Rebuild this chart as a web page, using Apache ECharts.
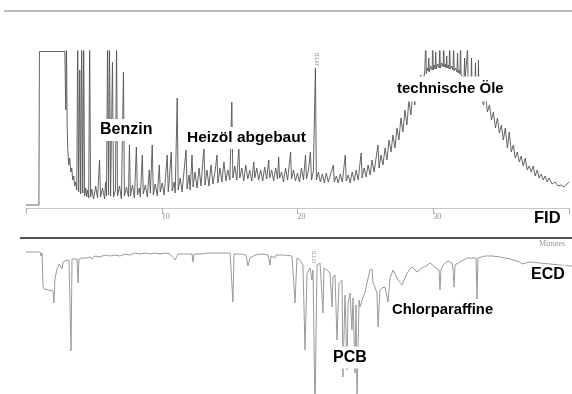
<!DOCTYPE html>
<html>
	<head>
		<meta charset="UTF-8">
		<title>FID / ECD</title>
		<style>
			html, body { margin: 0; padding: 0; background: #fff; }
			#main { width: 572px; height: 394px; }
		</style>
	</head>
	<body>
		<div id="main"></div>
	</body>
	<script type="text/javascript" src="https://cdn.jsdelivr.net/npm/echarts@6/dist/echarts.min.js"></script>
	<script type="text/javascript">
		// FID trace, [minutes, signal]
		var fidSolvent = [[0,3],[0.95,3],[0.99,156.5],[2.86,156.5],[2.93,98],[2.98,170],[3.03,83],[3.08,58],[3.15,43],[3.22,50],[3.30,36],[3.37,40],[3.44,28],[3.52,32],[3.59,22],[3.66,26],[3.74,18]];
		var fidBenzin = [[3.81,170],[3.88,16],[3.96,138],[4.03,14],[4.10,170],[4.18,15],[4.25,170],[4.32,12],[4.40,20],[4.47,11],[4.54,18],[4.62,10],[4.69,170],[4.76,11],[4.84,19],[4.98,9],[5.13,22],[5.27,10],[5.42,48],[5.49,11],[5.64,20],[5.79,9],[5.86,26],[5.93,12],[6.01,170],[6.08,13],[6.15,170],[6.23,12],[6.37,146],[6.45,11],[6.59,18],[6.67,170],[6.74,12],[6.89,22],[7.03,9],[7.18,136],[7.25,12],[7.40,21],[7.55,11],[7.62,63],[7.69,12],[7.84,23],[7.99,10],[8.13,61],[8.21,13],[8.35,20],[8.42,11],[8.57,53],[8.64,14],[8.79,23],[8.94,11],[9.08,38],[9.16,15],[9.30,63],[9.38,13],[9.52,24],[9.67,12],[9.82,43],[9.89,16],[10.04,25],[10.18,13],[10.40,53],[10.48,16],[10.55,28],[10.70,56],[10.77,17],[10.92,26]];
		var fidHeizoel = [[10.99,15],[11.14,110],[11.21,18],[11.36,30],[11.50,16],[11.65,38],[11.79,58],[11.87,19],[12.01,33],[12.09,18],[12.23,53],[12.31,21],[12.45,36],[12.60,20],[12.75,40],[12.89,22],[13.11,61],[13.19,23],[13.33,38],[13.48,22],[13.63,43],[13.77,24],[13.92,36],[14.07,53],[14.14,25],[14.29,40],[14.43,26],[14.58,46],[14.73,27],[14.87,38],[15.02,28],[15.16,106],[15.24,30],[15.38,42],[15.53,28],[15.68,61],[15.75,30],[15.90,40],[16.04,27],[16.19,43],[16.34,29],[16.48,38],[16.63,27],[16.78,46],[16.85,30],[17.00,40],[17.14,28],[17.29,38],[17.44,27],[17.58,41],[17.73,29],[17.88,48],[17.95,30],[18.10,38],[18.24,27],[18.39,40],[18.53,29],[18.61,51],[18.68,30],[18.83,36],[18.97,26],[19.12,40],[19.27,28],[19.49,56],[19.56,29],[19.71,38],[19.85,27],[20.00,35],[20.15,26],[20.29,40],[20.44,28],[20.59,53],[20.66,29],[20.81,38],[20.95,56],[21.03,28],[21.17,37],[21.32,140],[21.39,28],[21.54,36],[21.68,26],[21.83,34],[21.98,25],[22.12,35],[22.27,26],[22.42,33],[22.64,43],[22.71,26],[22.86,32],[23.00,25],[23.15,34],[23.30,26],[23.52,53],[23.59,27],[23.74,33],[23.88,25],[24.03,36],[24.18,27],[24.32,38],[24.47,28],[24.69,55],[24.76,30],[24.91,40]];
		var fidOele = [[25.05,31],[25.20,43],[25.35,33],[25.49,48],[25.64,36],[25.79,50],[25.93,63],[26.01,40],[26.15,53],[26.30,43],[26.45,60],[26.59,48],[26.74,68],[26.89,56],[27.03,73],[27.18,60],[27.33,80],[27.47,68],[27.62,90],[27.77,76],[27.91,98],[28.06,83],[28.21,108],[28.35,93],[28.50,116],[28.64,103],[28.79,123],[28.94,112],[29.08,133],[29.23,120],
			[29.38,138],[29.41,136],[29.45,170],[29.49,134],[29.56,140],[29.63,137],[29.67,150],[29.71,136],[29.80,142],[29.92,138],[29.96,170],[30.00,138],[30.08,143],[30.14,139],[30.18,156],[30.22,139],[30.33,144],[30.44,140],[30.48,165],[30.52,140],[30.62,145],[30.73,141],[30.77,170],[30.81,141],[30.90,144],[30.95,140],[30.99,152],[31.03,140],[31.12,143],[31.17,139],[31.21,168],[31.25,139],[31.36,142],[31.46,138],[31.50,170],[31.54,137],[31.65,140],[31.75,136],[31.79,155],[31.83,135],[31.92,138],[31.97,134],[32.01,170],[32.05,133],[32.16,135],[32.27,130],[32.31,150],[32.35,129],[32.44,131],[32.49,127],[32.53,160],[32.57,126],[32.70,126],[32.78,122],[32.82,150],[32.86,120],[32.98,120],[33.07,116],[33.11,145],[33.15,114],[33.23,114],[33.29,110],[33.33,148],[33.37,108],[33.55,110],
			[33.70,103],[33.85,113],[33.99,96],[34.14,103],[34.29,88],[34.43,96],[34.58,80],[34.73,90],[34.87,75],[35.02,83],[35.16,68],[35.31,80],[35.46,60],[35.60,76],[35.75,56],[35.90,63],[36.04,50],[36.19,56],[36.34,46],[36.48,52],[36.63,42],[36.78,50],[36.92,38],[37.07,42],[37.22,36],[37.36,42],[37.51,32],[37.66,38],[37.80,30],[37.95,34],[38.10,28],[38.24,32],[38.39,26],[38.53,30],[38.75,24],[38.97,26],[39.19,22],[39.41,23],[39.63,21],[39.85,24],[40.00,26]];

		// ECD trace, [minutes, signal]
		var ecdEarly = [[0,142],[0.88,142],[1.03,142],[1.10,138],[1.17,141],[1.25,108],[1.32,105],[1.98,103],[2.05,91],[2.12,115],[2.27,125],[2.42,130],[2.56,132],[2.64,125],[2.71,132],[2.86,133],[3.00,131],[3.15,134],[3.22,133],[3.30,43],[3.37,135],[3.59,135],[3.74,135],[3.81,111],[3.88,135],[4.10,136],[4.47,136],[4.69,137],[4.84,135],[5.05,138],[5.42,137],[5.79,139],[6.15,138],[6.52,139],[6.89,138],[7.25,140],[7.62,139],[7.99,141],[8.35,140],[8.72,141],[9.08,140],[9.45,141],[9.82,140],[10.18,141],[10.55,140],[10.92,134],[11.14,140],[11.65,140],[12.16,140],[12.23,132],[12.31,140],[12.75,140]];
		var ecdMiddle = [[13.48,141],[14.21,141],[14.95,141],[15.09,140],[15.16,92],[15.24,140],[15.68,140],[16.12,139],[16.26,128],[16.41,136],[16.78,139],[17.29,140],[17.73,139],[17.88,129],[17.95,138],[18.24,136],[18.31,139],[18.97,139],[19.49,138],[19.63,136],[19.71,91],[19.85,136],[20.07,134],[20.29,129]];
		var ecdPcb = [[20.44,44],[20.59,121],[20.81,126],[20.95,114],[21.03,124],[21.17,-20],[21.32,129],[21.54,131],[21.68,132],[21.76,81],[21.83,126],[22.05,124],[22.27,121],[22.42,87],[22.49,117],[22.64,119],[22.78,54],[22.93,111],[23.15,114],[23.22,17],[23.37,99],[23.52,24],[23.59,91],[23.74,101],[23.88,64],[23.96,96],[24.10,21],[24.18,89],[24.25,-6],[24.40,94],[24.47,87],[24.69,97],[24.83,101],[24.98,111],[25.20,124],[25.35,125],[25.42,111],[25.57,107],[25.71,101],[25.79,67],[25.93,104],[26.08,106],[26.30,107],[26.52,92]];
		var ecdChlor = [[26.67,116],[26.89,124],[27.11,118],[27.25,114],[27.55,109],[27.77,116],[27.91,121],[28.28,127],[28.64,122],[29.01,126],[29.30,128],[29.60,131],[29.96,127],[30.26,124],[30.33,104],[30.40,124],[30.55,129],[30.92,133],[31.21,131],[31.28,126],[31.36,107],[31.43,129],[31.50,131],[31.79,132],[32.31,136],[32.67,136],[32.97,136],[33.04,95],[33.11,136],[33.63,138],[34.14,138],[34.73,137],[35.46,135],[36.19,132],[36.34,130],[36.41,132],[36.92,132],[37.66,131],[38.39,130],[39.12,129],[40.00,128]];

		var fidData = fidSolvent.concat(fidBenzin, fidHeizoel, fidOele);
		var ecdData = ecdEarly.concat(ecdMiddle, ecdPcb, ecdChlor);

		var serif = '"Liberation Serif", "DejaVu Serif", serif';

		function label(text, x, y, size, pad) {
			return {
				type: 'text', z: 100, x: x, y: y,
				style: {
					text: text,
					font: 'bold ' + size + 'px "Liberation Sans", Arial, sans-serif',
					fill: '#000',
					verticalAlign: 'middle',
					backgroundColor: '#fff',
					padding: pad || [2, 2]
				}
			};
		}

		var myChart = echarts.init(document.getElementById('main'), null, { renderer: 'canvas' });
		var option = {
			animation: false,
			backgroundColor: '#fff',
			grid: [
				{ left: 26, right: 0, top: 51, height: 157 },
				{ left: 26, right: 0, top: 245, height: 149 }
			],
			xAxis: [{
				gridIndex: 0, type: 'value', min: 0, max: 40, interval: 10,
				axisLine: { lineStyle: { color: '#c8c8c8', width: 1 } },
				axisTick: { length: 6, lineStyle: { color: '#b0b0b0' } },
				splitLine: { show: false },
				axisLabel: {
					align: 'left', margin: 5, color: '#8a8a8a', fontSize: 8, fontFamily: serif,
					formatter: function (v) { return (v === 0 || v === 40) ? '' : v; }
				}
			}, {
				gridIndex: 1, type: 'value', min: 0, max: 40, show: false
			}],
			yAxis: [
				{ gridIndex: 0, type: 'value', min: 0, max: 157, show: false },
				{ gridIndex: 1, type: 'value', min: 0, max: 149, show: false }
			],
			series: [{
				name: 'FID', type: 'line', xAxisIndex: 0, yAxisIndex: 0,
				data: fidData, showSymbol: false, clip: true,
				lineStyle: { color: '#555', width: 0.9 }
			}, {
				name: 'ECD', type: 'line', xAxisIndex: 1, yAxisIndex: 1,
				data: ecdData, showSymbol: false, clip: true,
				lineStyle: { color: '#9a9a9a', width: 1 }
			}],
			graphic: [
				{ type: 'line', z: 90, shape: { x1: 4, y1: 11, x2: 572, y2: 11 }, style: { stroke: '#bdbdbd', lineWidth: 2 } },
				{ type: 'line', z: 90, shape: { x1: 20, y1: 238, x2: 572, y2: 238 }, style: { stroke: '#1a1a1a', lineWidth: 1.5 } },
				label('Benzin', 98, 130, 16, [3, 2]),
				label('Heizöl abgebaut', 185, 138, 15.5, [3, 2]),
				label('technische Öle', 395, 89, 15, [5, 2]),
				label('FID', 532, 218.5, 16.5, [1, 2]),
				label('ECD', 529, 274.5, 16, [1, 2]),
				label('Chlorparaffine', 390, 310, 14.8, [2, 2]),
				label('PCB', 331, 357.5, 16, [3, 2]),
				{ type: 'text', z: 100, x: 539, y: 244, style: { text: 'Minutes', font: '8px ' + serif, fill: '#999', verticalAlign: 'middle' } },
				{ type: 'text', z: 100, x: 317, y: 59, rotation: Math.PI / 2, style: { text: 'ISTD', font: '6px ' + serif, fill: '#888', align: 'center', verticalAlign: 'middle' } },
				{ type: 'text', z: 100, x: 314, y: 257, rotation: Math.PI / 2, style: { text: 'ISTD', font: '6px ' + serif, fill: '#999', align: 'center', verticalAlign: 'middle' } }
			]
		};
		myChart.setOption(option);
	</script>
</html>
